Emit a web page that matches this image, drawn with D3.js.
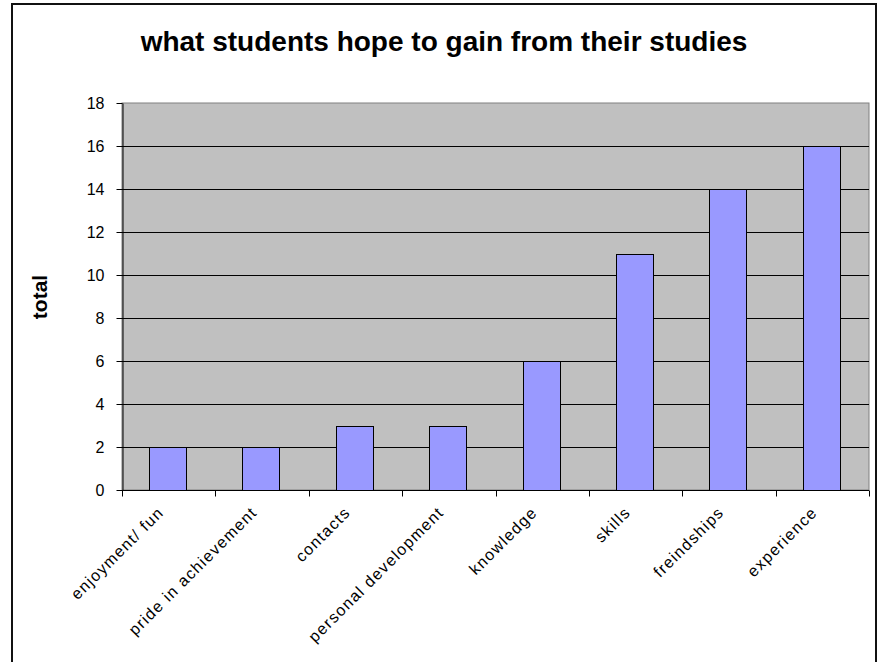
<!DOCTYPE html>
<html>
<head>
<meta charset="utf-8">
<script src="https://cdn.jsdelivr.net/npm/d3@7"></script>
<style>
  html, body { margin: 0; padding: 0; background: #fff; }
  svg { display: block; font-family: "Liberation Sans", Arial, sans-serif; }
</style>
</head>
<body>
<div id="viz"></div>
<script>
// chart data
const categories = ["enjoyment/ fun", "pride in achievement", "contacts", "personal development",
                    "knowledge", "skills", "freindships", "experience"];
const totals = [2, 2, 3, 3, 6, 11, 14, 16];
const yTicks = [0, 2, 4, 6, 8, 10, 12, 14, 16, 18];

const width = 881, height = 662;
const plot = { left: 122, right: 869, top: 103, bottom: 490 };

const svg = d3.select("#viz").append("svg")
    .attr("width", width)
    .attr("height", height);

// outer frame (goes past the bottom of the picture)
svg.append("rect")
    .attr("x", 12).attr("y", 4)
    .attr("width", 864).attr("height", 700)
    .attr("fill", "#fff")
    .attr("stroke", "#111")
    .attr("stroke-width", 2);

const x = d3.scaleBand()
    .domain(categories)
    .range([plot.left, plot.right])
    .paddingInner(0.6)
    .paddingOuter(0.3);

const y = d3.scaleLinear()
    .domain([0, 18])
    .range([plot.bottom, plot.top]);

// gray plot area
svg.append("rect")
    .attr("x", plot.left).attr("y", plot.top)
    .attr("width", plot.right - plot.left).attr("height", plot.bottom - plot.top)
    .attr("fill", "#c0c0c0")
    .attr("stroke", "#808080")
    .attr("stroke-width", 1);

// gridlines
svg.append("g")
    .selectAll("line")
    .data(yTicks.filter(d => d > 0 && d < 18))
    .join("line")
    .attr("x1", plot.left).attr("x2", plot.right)
    .attr("y1", d => Math.round(y(d)) + 0.5).attr("y2", d => Math.round(y(d)) + 0.5)
    .attr("stroke", "#000");

// bars
svg.append("g")
    .selectAll("rect")
    .data(totals)
    .join("rect")
    .attr("x", (d, i) => Math.round(x(categories[i]) - 1) + 0.5)
    .attr("y", d => Math.round(y(d)) + 0.5)
    .attr("width", Math.round(x.bandwidth()))
    .attr("height", d => Math.round(y(0)) - Math.round(y(d)))
    .attr("fill", "#9999ff")
    .attr("stroke", "#000")
    .attr("stroke-width", 1);

// y axis
const yAxis = svg.append("g")
    .attr("transform", `translate(${plot.left + 0.5},0)`)
    .call(d3.axisLeft(y).tickValues(yTicks).tickSize(6).tickPadding(12).tickSizeOuter(0));
yAxis.select(".domain").attr("stroke", "#000");
yAxis.selectAll(".tick line").attr("x1", 0);
yAxis.selectAll("text")
    .attr("x", -18)
    .attr("font-size", 16)
    .attr("font-family", "Liberation Sans, Arial, sans-serif")
    .attr("fill", "#000");

// x axis: ticks sit between categories
const step = (plot.right - plot.left) / categories.length;
const xAxis = svg.append("g")
    .attr("transform", `translate(0,${plot.bottom + 0.5})`);
xAxis.append("line")
    .attr("x1", plot.left).attr("x2", plot.right)
    .attr("stroke", "#000");
xAxis.selectAll("line.tick")
    .data(d3.range(categories.length + 1))
    .join("line")
    .attr("class", "tick")
    .attr("x1", i => Math.round(plot.left + i * step) + 0.5)
    .attr("x2", i => Math.round(plot.left + i * step) + 0.5)
    .attr("y1", 0).attr("y2", 6)
    .attr("stroke", "#000");

xAxis.selectAll("text")
    .data(categories)
    .join("text")
    .attr("transform", d => `translate(${x(d) + x.bandwidth() / 2 - 4},${23}) rotate(-45)`)
    .attr("text-anchor", "end")
    .attr("font-size", 16)
    .attr("letter-spacing", 1.3)
    .attr("fill", "#000")
    .text(d => d);

// title
svg.append("text")
    .attr("x", 444).attr("y", 51)
    .attr("text-anchor", "middle")
    .attr("font-size", 28)
    .attr("font-weight", "bold")
    .text("what students hope to gain from their studies");

// y label
svg.append("text")
    .attr("transform", "translate(47,297) rotate(-90)")
    .attr("text-anchor", "middle")
    .attr("font-size", 21)
    .attr("font-weight", "bold")
    .text("total");
</script>
</body>
</html>
